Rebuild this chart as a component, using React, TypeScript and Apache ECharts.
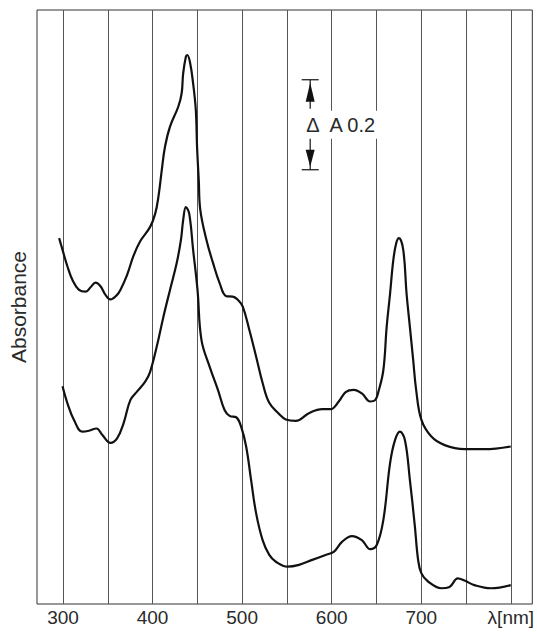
import React, { useEffect, useRef } from "react";
import * as echarts from "echarts";

// Wavelength (nm) and absorbance readings, upper spectrum
const upperNm = [295.7, 299.5, 305.0, 310.6, 317.9, 325.3, 330.8, 336.4, 341.9, 347.5, 353.0, 360.4, 364.1, 371.5, 378.8, 386.2, 397.3, 402.9, 406.5, 410.3, 413.9, 419.5, 428.7, 432.5, 434.2, 437.2, 438.7, 441.7, 445.3, 448.3, 449.7, 451.6, 453.3, 460.2, 467.5, 474.9, 482.3, 489.6, 495.2, 500.7, 508.1, 515.6, 522.9, 530.3, 541.4, 548.8, 559.9, 574.6, 589.4, 598.7, 607.9, 615.6, 624.5, 633.7, 643.0, 648.5, 652.2, 657.7, 661.4, 665.2, 668.8, 672.1, 675.1, 679.9, 683.6, 687.3, 691.0, 694.3, 700.2, 711.3, 726.1, 748.3, 770.4, 799.9];
const upperAbs = [0.813, 0.787, 0.750, 0.720, 0.698, 0.694, 0.704, 0.714, 0.706, 0.687, 0.677, 0.687, 0.698, 0.731, 0.774, 0.806, 0.838, 0.867, 0.904, 0.964, 1.016, 1.061, 1.105, 1.135, 1.179, 1.216, 1.220, 1.205, 1.157, 1.098, 1.016, 0.942, 0.876, 0.809, 0.758, 0.713, 0.684, 0.683, 0.676, 0.661, 0.609, 0.550, 0.491, 0.447, 0.422, 0.410, 0.407, 0.424, 0.433, 0.433, 0.450, 0.471, 0.476, 0.468, 0.450, 0.453, 0.472, 0.520, 0.616, 0.690, 0.764, 0.802, 0.813, 0.787, 0.690, 0.616, 0.542, 0.476, 0.409, 0.372, 0.353, 0.344, 0.344, 0.350];

// Lower spectrum
const lowerNm = [299.5, 305.0, 312.3, 321.6, 329.0, 337.5, 343.8, 353.0, 360.4, 367.7, 375.2, 382.6, 391.8, 397.3, 404.7, 412.1, 419.5, 426.9, 431.7, 434.2, 437.2, 440.9, 445.3, 450.2, 454.6, 463.8, 473.0, 480.4, 486.0, 493.4, 498.9, 504.5, 510.0, 515.6, 522.9, 530.3, 537.7, 550.6, 563.5, 578.3, 593.1, 602.3, 611.5, 622.6, 633.7, 643.0, 650.3, 657.7, 665.2, 670.7, 676.2, 681.8, 687.3, 692.9, 696.5, 700.2, 707.6, 722.3, 731.6, 740.8, 748.3, 759.3, 777.7, 799.9];
const lowerAbs = [0.484, 0.446, 0.409, 0.383, 0.385, 0.390, 0.376, 0.358, 0.368, 0.402, 0.453, 0.472, 0.494, 0.516, 0.572, 0.638, 0.698, 0.757, 0.809, 0.853, 0.882, 0.868, 0.787, 0.698, 0.587, 0.527, 0.476, 0.431, 0.418, 0.415, 0.394, 0.350, 0.276, 0.202, 0.142, 0.109, 0.094, 0.083, 0.087, 0.098, 0.109, 0.116, 0.138, 0.151, 0.142, 0.122, 0.131, 0.187, 0.313, 0.364, 0.383, 0.364, 0.276, 0.172, 0.098, 0.068, 0.050, 0.035, 0.038, 0.057, 0.052, 0.042, 0.035, 0.042];

// Vertical grid lines and tick labels
const gridNm = [300, 350, 400, 450, 500, 550, 600, 650, 700, 750, 800];
const tickValues = [300, 400, 500, 600, 700, 800];
const tickLabels = ["300", "400", "500", "600", "700", "λ[nm]"];

// Scale bar: ΔA 0.2
const scaleBarNm = 576;
const scaleBarBase = 0.965;
const scaleBarSpan = 0.2;
const scaleBarText = "Δ  A 0.2";

const FONT = "'Liberation Sans', Arial, Helvetica, sans-serif";

export default function App() {
  const ref = useRef<HTMLDivElement>(null);
  useEffect(() => {
    if (!ref.current) return;
    const chart = echarts.init(ref.current, undefined, { renderer: "svg" });
    const upper = upperNm.map((x, i) => [x, upperAbs[i]]);
    const lower = lowerNm.map((x, i) => [x, lowerAbs[i]]);
    chart.setOption({
      animation: false,
      backgroundColor: "#ffffff",
      grid: {
        left: 36,
        right: 2,
        top: 10,
        bottom: 30,
        show: true,
        borderColor: "#333",
        borderWidth: 1,
        backgroundColor: "transparent",
      },
      xAxis: {
        type: "value",
        min: 271,
        max: 824,
        axisLine: { show: false },
        axisTick: { show: false },
        splitLine: { show: false },
        axisLabel: {
          customValues: tickValues,
          formatter: (v: number) => tickLabels[tickValues.indexOf(v)] ?? "",
          color: "#2a2a2a",
          fontSize: 19,
          fontFamily: FONT,
          margin: 4,
        },
      },
      yAxis: {
        type: "value",
        min: 0,
        max: 1.32,
        axisLine: { show: false },
        axisTick: { show: false },
        axisLabel: { show: false },
        splitLine: { show: false },
        name: "Absorbance",
        nameLocation: "middle",
        nameRotate: 90,
        nameGap: 8,
        nameTextStyle: { color: "#2a2a2a", fontSize: 21, fontFamily: FONT },
      },
      series: [
        {
          type: "line",
          data: [],
          z: 1,
          markLine: {
            silent: true,
            z: 1,
            symbol: ["none", "none"],
            label: { show: false },
            lineStyle: { color: "#555", width: 1, type: "solid" },
            data: gridNm.map((v) => ({ xAxis: v })),
          },
        },
        {
          type: "line",
          data: upper,
          smooth: 0.4,
          showSymbol: false,
          z: 3,
          lineStyle: { color: "#111", width: 2.2 },
        },
        {
          type: "line",
          data: lower,
          smooth: 0.4,
          showSymbol: false,
          z: 3,
          lineStyle: { color: "#111", width: 2.2 },
        },
        {
          type: "custom",
          z: 10,
          data: [[scaleBarNm, scaleBarBase]],
          renderItem: (params: any, api: any) => {
            const b = api.coord([api.value(0), api.value(1)]);
            const t = api.coord([api.value(0), api.value(1) + scaleBarSpan]);
            const x = b[0];
            const yB = b[1];
            const yT = t[1];
            const mid = (yB + yT) / 2;
            const stroke = { stroke: "#111", lineWidth: 1.2 };
            return {
              type: "group",
              children: [
                { type: "line", shape: { x1: x - 8.5, y1: yT, x2: x + 8.5, y2: yT }, style: stroke },
                { type: "line", shape: { x1: x - 8.5, y1: yB, x2: x + 8.5, y2: yB }, style: stroke },
                { type: "line", shape: { x1: x, y1: yT, x2: x, y2: mid - 16 }, style: stroke },
                { type: "line", shape: { x1: x, y1: mid + 12, x2: x, y2: yB }, style: stroke },
                {
                  type: "polygon",
                  shape: { points: [[x, yT + 3], [x - 4.5, yT + 22], [x + 4.5, yT + 22]] },
                  style: { fill: "#111" },
                },
                {
                  type: "polygon",
                  shape: { points: [[x, yB - 3], [x - 4.5, yB - 20], [x + 4.5, yB - 20]] },
                  style: { fill: "#111" },
                },
                {
                  type: "text",
                  style: {
                    text: scaleBarText,
                    x: x - 7,
                    y: mid,
                    align: "left",
                    verticalAlign: "middle",
                    fill: "#2a2a2a",
                    font: `20px ${FONT}`,
                    backgroundColor: "#ffffff",
                    padding: [4, 3, 4, 3],
                  },
                },
              ],
            };
          },
        },
      ],
    });
    return () => chart.dispose();
  }, []);
  return (
    <div
      ref={ref}
      style={{ position: "fixed", left: 0, top: 0, width: 537, height: 634, background: "#fff" }}
    />
  );
}
